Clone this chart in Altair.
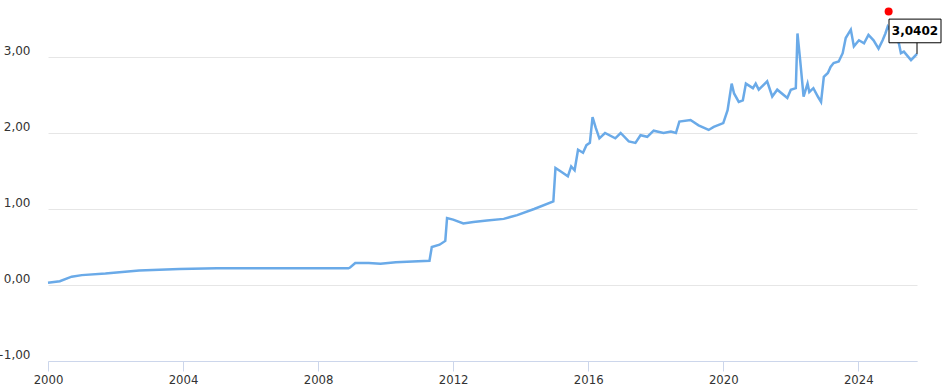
import altair as alt
import pandas as pd

dates = [
    "2000-01-01", "2000-05-08", "2000-09-13", "2001-01-01", "2001-09-13", "2002-09-13",
    "2003-11-24", "2005-01-01", "2006-07-01", "2008-01-01", "2008-11-24", "2008-12-12",
    "2009-02-06", "2009-07-01", "2009-11-06", "2010-04-20", "2010-10-20", "2011-04-20",
    "2011-05-15", "2011-08-07", "2011-10-08", "2011-10-27", "2012-01-01", "2012-04-20",
    "2012-08-07", "2013-01-01", "2013-07-01", "2013-11-24", "2014-05-26", "2014-12-20",
    "2015-01-12", "2015-03-15", "2015-05-26", "2015-07-01", "2015-08-07", "2015-09-13",
    "2015-11-06", "2015-12-13", "2016-01-19", "2016-02-17", "2016-03-22", "2016-05-01",
    "2016-07-01", "2016-10-20", "2016-12-17", "2017-03-15", "2017-05-26", "2017-07-20",
    "2017-10-01", "2017-12-09", "2018-03-26", "2018-06-14", "2018-08-07", "2018-09-13",
    "2019-01-12", "2019-04-09", "2019-07-27", "2019-09-20", "2020-01-01", "2020-02-17",
    "2020-04-01", "2020-04-27", "2020-06-17", "2020-07-31", "2020-09-02", "2020-11-17",
    "2020-12-17", "2021-01-19", "2021-04-20", "2021-06-14", "2021-08-07", "2021-11-24",
    "2022-01-01", "2022-02-24", "2022-03-14", "2022-04-12", "2022-05-19", "2022-07-01",
    "2022-07-20", "2022-09-02", "2022-10-20", "2022-11-24", "2022-12-24", "2023-02-06",
    "2023-03-07", "2023-04-09", "2023-06-03", "2023-07-16", "2023-08-18", "2023-10-12",
    "2023-11-14", "2024-01-08", "2024-03-03", "2024-04-20", "2024-06-14", "2024-08-07",
    "2024-09-20", "2024-10-20", "2024-11-14", "2024-12-13", "2025-02-06", "2025-03-15",
    "2025-04-06", "2025-05-08", "2025-07-24", "2025-08-26", "2025-09-27",
]
values = [
    0.03, 0.05, 0.11, 0.13, 0.15, 0.19,
    0.21, 0.22, 0.22, 0.22, 0.22, 0.23,
    0.29, 0.29, 0.28, 0.30, 0.31, 0.32,
    0.50, 0.53, 0.58, 0.88, 0.86, 0.81,
    0.83, 0.85, 0.87, 0.92, 1.00, 1.10,
    1.54, 1.49, 1.43, 1.56, 1.51, 1.78,
    1.74, 1.84, 1.87, 2.21, 2.07, 1.93,
    2.00, 1.93, 2.00, 1.89, 1.87, 1.97,
    1.95, 2.03, 2.00, 2.02, 2.00, 2.15,
    2.17, 2.10, 2.04, 2.08, 2.13, 2.30,
    2.65, 2.52, 2.41, 2.43, 2.65, 2.59,
    2.65, 2.57, 2.68, 2.48, 2.57, 2.46,
    2.57, 2.59, 3.31, 2.96, 2.48, 2.65,
    2.54, 2.59, 2.48, 2.41, 2.74, 2.79,
    2.87, 2.92, 2.94, 3.05, 3.25, 3.36,
    3.14, 3.22, 3.18, 3.29, 3.22, 3.11,
    3.22, 3.31, 3.40, 3.35, 3.25, 3.18,
    3.05, 3.07, 2.96, 3.00, 3.04,
]

last_label = ["3,0402"]
last_date = [dates[-1]]
last_value = [3.0402]
connector_top = [3.20]
marker_date = ["2024-11-24"]
marker_value = [3.60]

y_ticks = [-1, 0, 1, 2, 3]

df = pd.DataFrame({"date": dates, "value": values})
last_df = pd.DataFrame({"date": last_date, "value": last_value,
                        "top": connector_top, "label": last_label})
marker_df = pd.DataFrame({"date": marker_date, "value": marker_value})

x_scale = alt.Scale(domain=["2000-01-01", dates[-1]], nice=False)
y_scale = alt.Scale(domain=[-1, 3.75], nice=False, zero=False)

x_enc = alt.X(
    "date:T",
    scale=x_scale,
    title=None,
    axis=alt.Axis(
        tickCount={"interval": "year", "step": 4},
        format="%Y",
        grid=False,
        domainColor="#ccd6eb",
        tickColor="#ccd6eb",
        tickSize=10,
        labelPadding=2,
        labelFont="DejaVu Sans Condensed, Liberation Sans Narrow, DejaVu Sans",
        labelFontSize=13,
        labelColor="#333333",
        labelFlush=False,
    ),
)
y_enc = alt.Y(
    "value:Q",
    scale=y_scale,
    title=None,
    axis=alt.Axis(
        values=y_ticks,
        domain=False,
        ticks=False,
        tickSize=0,
        gridColor="#e6e6e6",
        gridWidth=1,
        labelAlign="right",
        labelPadding=18,
        labelOffset=-7,
        labelFont="DejaVu Sans",
        labelFontSize=12,
        labelColor="#333333",
        labelExpr="replace(format(datum.value, '.2f'), '.', ',')",
    ),
)

line = alt.Chart(df).mark_line(color="#6aaae8", strokeWidth=2.5).encode(x=x_enc, y=y_enc)

connector = alt.Chart(last_df).mark_rule(color="#000000", strokeWidth=1).encode(
    x="date:T", y="value:Q", y2="top:Q"
)

box = alt.Chart(last_df).mark_point(
    shape="M-1,-0.455 L1,-0.455 L1,0.455 L-1,0.455 Z",
    size=2704,
    filled=True,
    fill="#ffffff",
    stroke="#000000",
    strokeWidth=1,
    opacity=1,
    xOffset=-2,
    yOffset=-23,
).encode(x="date:T", y="value:Q")

text = alt.Chart(last_df).mark_text(
    font="DejaVu Sans",
    fontSize=12,
    fontWeight="bold",
    color="#000000",
    dx=-2,
    dy=-23,
    align="center",
    baseline="middle",
).encode(x="date:T", y="value:Q", text="label:N")

marker = alt.Chart(marker_df).mark_point(
    filled=True, color="#ff0000", size=64, opacity=1, shape="circle"
).encode(x="date:T", y="value:Q")

chart = alt.layer(line, connector, box, text, marker).properties(
    width=869,
    height=361,
    autosize=alt.AutoSizeParams(type="none"),
    padding={"left": 48, "top": 0, "right": 33, "bottom": 29},
    background="#ffffff",
).configure_view(stroke=None)

chart.save("out.html", embed_options={"renderer": "svg", "actions": False})
